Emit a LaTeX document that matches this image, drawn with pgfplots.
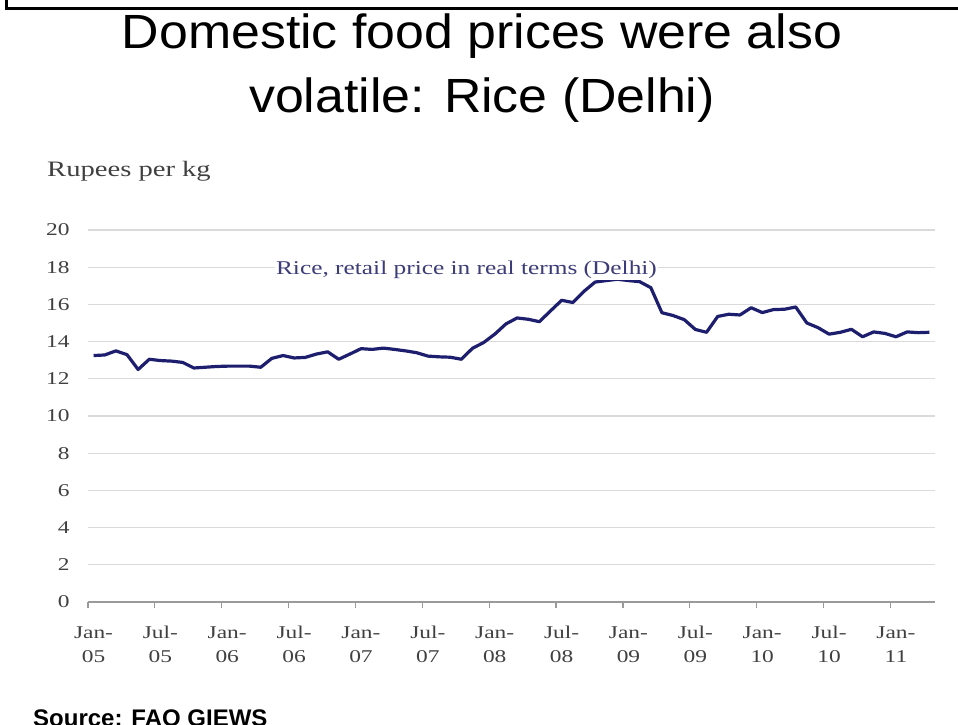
\documentclass[border=0pt]{standalone}
\usepackage{pgfplots}
\pgfplotsset{compat=1.18}
\usepackage{pgfplotstable}
\usepackage{fontspec}
\setmainfont{Liberation Sans}
\newfontfamily\chartfont[FakeStretch=1.3]{Liberation Serif}
\newfontfamily\titlefont[FakeStretch=1.08]{Liberation Sans}
\definecolor{riceline}{HTML}{1E1E6E}
\definecolor{annot}{HTML}{3C3C78}
\definecolor{labgray}{HTML}{404040}
\definecolor{gridc}{HTML}{DADADA}
\definecolor{axisc}{HTML}{9A9A9A}

\pgfplotstableread{
m price
0.5 13.25
1.5 13.28
2.5 13.5
3.5 13.3
4.5 12.5
5.5 13.05
6.5 12.98
7.5 12.95
8.5 12.88
9.5 12.58
10.5 12.62
11.5 12.66
12.5 12.68
13.5 12.68
14.5 12.68
15.5 12.62
16.5 13.1
17.5 13.25
18.5 13.12
19.5 13.15
20.5 13.33
21.5 13.45
22.5 13.05
23.5 13.33
24.5 13.62
25.5 13.58
26.5 13.65
27.5 13.58
28.5 13.5
29.5 13.4
30.5 13.22
31.5 13.18
32.5 13.16
33.5 13.05
34.5 13.64
35.5 13.95
36.5 14.4
37.5 14.95
38.5 15.27
39.5 15.2
40.5 15.07
41.5 15.65
42.5 16.22
43.5 16.1
44.5 16.7
45.5 17.2
46.5 17.28
47.5 17.35
48.5 17.28
49.5 17.22
50.5 16.9
51.5 15.55
52.5 15.4
53.5 15.18
54.5 14.65
55.5 14.5
56.5 15.35
57.5 15.47
58.5 15.43
59.5 15.82
60.5 15.56
61.5 15.72
62.5 15.74
63.5 15.86
64.5 15.0
65.5 14.75
66.5 14.4
67.5 14.5
68.5 14.66
69.5 14.26
70.5 14.52
71.5 14.44
72.5 14.26
73.5 14.52
74.5 14.48
75.5 14.5
}\ricedata

\begin{document}
\begin{tikzpicture}
\begin{scope}[x=1bp,y=1bp]
\useasboundingbox (0,0) rectangle (958,725);
\clip (0,0) rectangle (958,725);
% frame
\draw[line width=3.5bp] (6.5,730) -- (6.5,716.5) -- (965,716.5);
% title
\node[anchor=base, inner sep=0pt, font=\titlefont\fontsize{48bp}{60bp}\selectfont] at (482,676) {Domestic food prices were also};
\node[anchor=base, inner sep=0pt, font=\titlefont\fontsize{48bp}{60bp}\selectfont] at (482,612) {volatile: Rice (Delhi)};
% source
\node[anchor=base west, inner sep=0pt, font=\bfseries\fontsize{24bp}{28bp}\selectfont] at (33,-2) {Source: FAO GIEWS};
% unit label
\node[anchor=base west, inner sep=0pt, text=labgray, font=\chartfont\fontsize{22bp}{26bp}\selectfont] at (47,548) {Rupees per kg};
\end{scope}

\begin{axis}[
  at={(88bp,123bp)}, anchor=south west,
  scale only axis, width=847bp, height=372bp,
  xmin=0, xmax=76, ymin=0, ymax=20,
  axis lines*=left,
  y axis line style={draw=none},
  x axis line style={color=axisc, line width=1.8bp},
  ytick={0,2,...,20},
  ymajorgrids, grid style={color=gridc, line width=1.3bp},
  ytick style={draw=none},
  xtick={0,6,...,72},
  xtick style={color=axisc, line width=1.2bp},
  major tick length=6bp,
  tick align=outside,
  xticklabels={\strut Jan-\\05,\strut Jul-\\05,\strut Jan-\\06,\strut Jul-\\06,\strut Jan-\\07,\strut Jul-\\07,\strut Jan-\\08,\strut Jul-\\08,\strut Jan-\\09,\strut Jul-\\09,\strut Jan-\\10,\strut Jul-\\10,\strut Jan-\\11},
  xticklabel style={align=center, xshift=5.5bp, yshift=-10bp, text=labgray,
    font=\chartfont\fontsize{18bp}{24bp}\selectfont},
  yticklabel style={text=labgray, xshift=-9bp,
    font=\chartfont\fontsize{18bp}{22bp}\selectfont},
  /pgf/number format/assume math mode=true,
  clip=false,
]
\addplot[color=riceline, line width=3.2bp, line join=round, mark=none] table[x=m, y=price] {\ricedata};
\node[anchor=base, fill=white, inner sep=1.5bp, text=annot,
  font=\chartfont\fontsize{19.5bp}{22bp}\selectfont] at (axis cs:33.96,17.63) {Rice, retail price in real terms (Delhi)};
\end{axis}
\end{tikzpicture}
\end{document}
